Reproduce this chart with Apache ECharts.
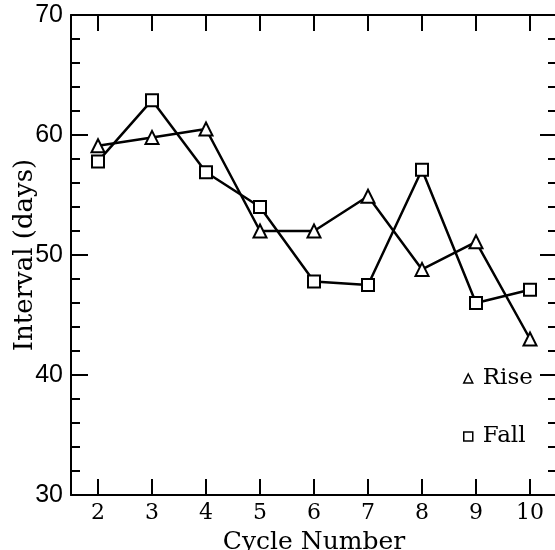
<!DOCTYPE html>
<html>
<head>
<meta charset="utf-8">
<script src="https://cdn.jsdelivr.net/npm/echarts@6/dist/echarts.min.js"></script>
<style>
  html, body { margin: 0; padding: 0; background: #fff; }
  #chart { width: 555px; height: 550px; }
</style>
</head>
<body>
<div id="chart"></div>
<script>
// Cycle numbers along the bottom axis
const cycles = ['2', '3', '4', '5', '6', '7', '8', '9', '10'];
// Rise interval per cycle (days)
const rise = [59.1, 59.8, 60.5, 52.0, 52.0, 54.9, 48.8, 51.1, 43.0];
// Fall interval per cycle (days)
const fall = [57.8, 62.9, 56.9, 54.0, 47.8, 47.5, 57.1, 46.0, 47.1];
// Interval axis range and step
const yMin = 30, yMax = 70, yStep = 10;

const serif = '"DejaVu Serif", "Liberation Serif", serif';
const ink = '#000';

const chart = echarts.init(document.getElementById('chart'), null, { renderer: 'canvas' });

const xTicks = { show: true, inside: true, alignWithLabel: true, length: 16, lineStyle: { color: ink, width: 2 } };
const yTicks = { show: true, inside: true, length: 17, lineStyle: { color: ink, width: 2 } };
const yMinor = { show: true, splitNumber: 5, length: 9, lineStyle: { color: ink, width: 2 } };
const axisLine = { show: true, onZero: false, lineStyle: { color: ink, width: 2 } };

chart.setOption({
  animation: false,
  backgroundColor: '#fff',
  grid: { left: 71, top: 15, width: 486, height: 480, containLabel: false, outerBoundsMode: 'none' },
  legend: {
    orient: 'vertical',
    left: 458,
    top: 362,
    itemWidth: 9,
    itemHeight: 9,
    itemGap: 35,
    textStyle: { fontFamily: serif, fontSize: 23, color: ink, padding: [0, 0, 0, 5] },
    itemStyle: { color: '#fff', borderColor: ink, borderWidth: 1.5 },
    data: [
      { name: 'Rise', icon: 'triangle' },
      { name: 'Fall', icon: 'rect' }
    ]
  },
  xAxis: [
    {
      type: 'category',
      data: cycles,
      boundaryGap: true,
      position: 'bottom',
      name: 'Cycle Number',
      nameLocation: 'middle',
      nameGap: 35,
      nameMoveOverlap: false,
      nameTextStyle: { fontFamily: serif, fontSize: 25, color: ink, verticalAlign: 'top' },
      axisLine: axisLine,
      axisTick: xTicks,
      axisLabel: { fontFamily: serif, fontSize: 22, color: ink, margin: 7 },
      splitLine: { show: false }
    },
    {
      type: 'category',
      data: cycles,
      boundaryGap: true,
      position: 'top',
      axisLine: axisLine,
      axisTick: xTicks,
      axisLabel: { show: false },
      splitLine: { show: false }
    }
  ],
  yAxis: [
    {
      type: 'value',
      min: yMin,
      max: yMax,
      interval: yStep,
      position: 'left',
      name: 'Interval (days)',
      nameLocation: 'middle',
      nameGap: 33,
      nameMoveOverlap: false,
      nameTextStyle: { fontFamily: serif, fontSize: 26, color: ink },
      axisLine: axisLine,
      axisTick: yTicks,
      minorTick: yMinor,
      axisLabel: { fontFamily: '"Liberation Sans", Arial, sans-serif', fontSize: 25, color: ink, margin: 8 },
      splitLine: { show: false }
    },
    {
      type: 'value',
      min: yMin,
      max: yMax,
      interval: yStep,
      position: 'right',
      axisLine: axisLine,
      axisTick: yTicks,
      minorTick: yMinor,
      axisLabel: { show: false },
      splitLine: { show: false }
    }
  ],
  series: [
    {
      name: 'Rise',
      type: 'line',
      data: rise,
      symbol: 'triangle',
      symbolSize: 13,
      lineStyle: { color: ink, width: 2.5 },
      itemStyle: { color: '#fff', borderColor: ink, borderWidth: 2 },
      z: 3
    },
    {
      name: 'Fall',
      type: 'line',
      data: fall,
      symbol: 'rect',
      symbolSize: 12,
      lineStyle: { color: ink, width: 2.5 },
      itemStyle: { color: '#fff', borderColor: ink, borderWidth: 2 },
      z: 3
    }
  ]
});
</script>
</body>
</html>
